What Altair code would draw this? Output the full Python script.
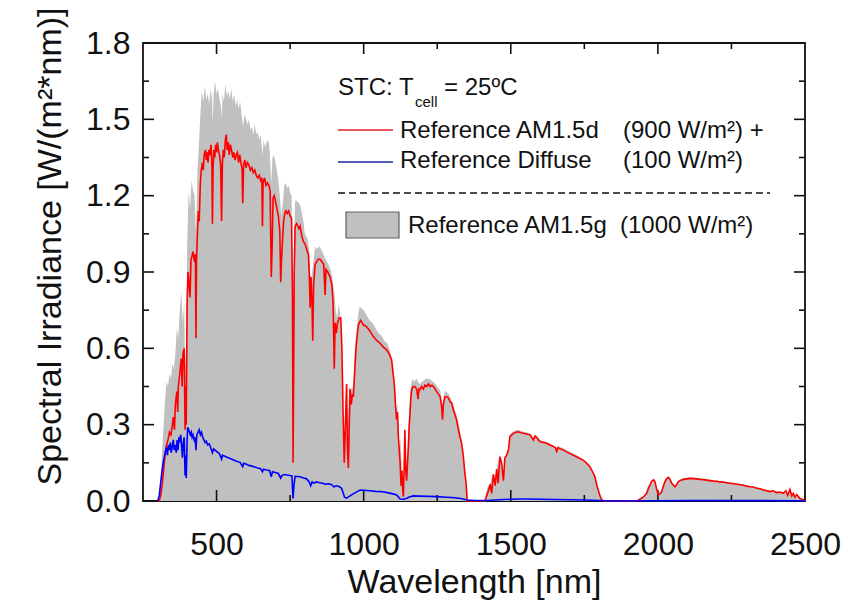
import altair as alt
import pandas as pd

# ---------------- data ----------------
# Reference AM1.5g global spectrum (grey fill): (wavelength nm, W/(m2 nm))
GLOBAL = [
    (280, 0), (300, 0), (305, 0.01), (310, 0.08), (315, 0.2), (320, 0.3), (325, 0.4),
    (330, 0.47), (335, 0.45), (340, 0.5), (345, 0.48), (350, 0.54), (355, 0.52),
    (360, 0.58), (365, 0.68), (370, 0.64), (375, 0.75), (380, 0.82), (385, 0.7),
    (390, 0.78), (393, 0.5), (397, 0.62), (400, 1.0), (405, 1.22), (410, 1.15),
    (415, 1.26), (420, 1.22), (425, 1.2), (430, 1.05), (435, 1.3), (440, 1.4),
    (445, 1.52), (450, 1.61), (455, 1.57), (460, 1.63), (465, 1.58), (470, 1.6),
    (475, 1.56), (480, 1.62), (485, 1.58), (487, 1.48), (490, 1.6), (495, 1.65),
    (500, 1.6), (505, 1.62), (510, 1.58), (515, 1.55), (518, 1.5), (520, 1.6),
    (525, 1.57), (530, 1.64), (535, 1.59), (540, 1.61), (545, 1.58), (550, 1.62),
    (555, 1.57), (560, 1.6), (565, 1.55), (570, 1.58), (575, 1.54), (580, 1.57),
    (585, 1.52), (590, 1.47), (595, 1.52), (600, 1.5), (605, 1.48), (610, 1.5),
    (615, 1.46), (620, 1.47), (625, 1.44), (630, 1.48), (635, 1.44), (640, 1.45),
    (645, 1.42), (650, 1.44), (656, 1.36), (660, 1.42), (665, 1.39), (670, 1.41),
    (675, 1.42), (680, 1.39), (686, 1.25), (690, 1.35), (695, 1.36), (700, 1.33),
    (705, 1.3), (710, 1.26), (715, 1.2), (720, 1.12), (725, 1.17), (730, 1.24),
    (735, 1.25), (740, 1.23), (745, 1.24), (750, 1.21), (755, 1.2), (760, 0.7),
    (763, 1.0), (767, 1.18), (772, 1.18), (780, 1.17), (785, 1.16), (790, 1.13),
    (795, 1.1), (800, 1.05), (805, 1.04), (810, 1.03), (815, 0.98), (820, 0.86),
    (825, 0.9), (830, 0.95), (835, 1.0), (840, 0.99), (850, 1.0), (860, 0.98),
    (870, 0.95), (880, 0.93), (890, 0.9), (900, 0.82), (905, 0.75), (910, 0.72),
    (915, 0.77), (920, 0.74), (925, 0.6), (930, 0.3), (935, 0.2), (940, 0.45),
    (945, 0.18), (950, 0.46), (955, 0.42), (960, 0.45), (965, 0.44), (970, 0.6),
    (975, 0.66), (980, 0.72), (985, 0.76), (990, 0.76), (1000, 0.75), (1010, 0.73),
    (1020, 0.71), (1030, 0.7), (1040, 0.68), (1050, 0.66), (1060, 0.65), (1070, 0.63),
    (1080, 0.62), (1090, 0.59), (1100, 0.53), (1105, 0.48), (1110, 0.35), (1115, 0.38),
    (1120, 0.2), (1125, 0.25), (1130, 0.08), (1135, 0.05), (1140, 0.3), (1145, 0.1),
    (1150, 0.25), (1155, 0.35), (1160, 0.45), (1165, 0.48), (1170, 0.47), (1180, 0.48),
    (1190, 0.46), (1200, 0.47), (1210, 0.48), (1220, 0.48), (1230, 0.475), (1240, 0.465),
    (1250, 0.45), (1260, 0.435), (1268, 0.38), (1275, 0.43), (1280, 0.43), (1290, 0.42),
    (1300, 0.39), (1310, 0.36), (1320, 0.32), (1330, 0.26), (1340, 0.18), (1345, 0.1),
    (1350, 0.03), (1355, 0.0), (1410, 0.0), (1415, 0.03), (1420, 0.05), (1430, 0.07),
    (1440, 0.11), (1445, 0.08), (1452, 0.13), (1463, 0.18), (1469, 0.15), (1475, 0.1),
    (1480, 0.17), (1486, 0.19), (1492, 0.21), (1497, 0.26), (1505, 0.27), (1515, 0.277),
    (1525, 0.28), (1535, 0.275), (1545, 0.272), (1560, 0.268), (1570, 0.262),
    (1578, 0.248), (1585, 0.258), (1600, 0.24), (1620, 0.233), (1640, 0.222),
    (1655, 0.208), (1660, 0.216), (1680, 0.206), (1700, 0.194), (1720, 0.182),
    (1740, 0.168), (1760, 0.15), (1775, 0.125), (1785, 0.1), (1795, 0.05),
    (1805, 0.018), (1815, 0.0), (1930, 0.0), (1940, 0.008), (1955, 0.02), (1965, 0.055),
    (1975, 0.075), (1985, 0.087), (1990, 0.08), (1996, 0.048), (2002, 0.028),
    (2013, 0.04), (2024, 0.08), (2036, 0.097), (2047, 0.073), (2058, 0.06), (2070, 0.08),
    (2087, 0.089), (2109, 0.093), (2130, 0.091), (2155, 0.088), (2177, 0.084),
    (2200, 0.081), (2223, 0.078), (2245, 0.074), (2268, 0.07), (2290, 0.066),
    (2313, 0.06), (2336, 0.054), (2359, 0.047), (2381, 0.041), (2403, 0.037),
    (2426, 0.034), (2441, 0.027), (2449, 0.048), (2455, 0.025), (2466, 0.02),
    (2483, 0.012), (2500, 0.0),
]

# Reference AM1.5d direct spectrum (red line)
DIRECT = [
    (300, 0), (305, 0.0), (310, 0.02), (315, 0.06), (320, 0.12), (325, 0.18), (330, 0.22),
    (335, 0.24), (340, 0.27), (345, 0.26), (350, 0.3), (353, 0.33), (357, 0.28),
    (360, 0.38), (365, 0.43), (368, 0.35), (370, 0.45), (375, 0.5), (380, 0.56),
    (383, 0.45), (386, 0.58), (390, 0.6), (393, 0.28), (395, 0.45), (397, 0.3),
    (400, 0.78), (403, 0.9), (406, 0.86), (410, 0.8), (413, 0.95), (416, 0.96),
    (420, 0.98), (425, 0.94), (428, 0.97), (430, 0.64), (432, 0.95), (435, 1.05),
    (438, 1.14), (441, 1.1), (445, 1.25), (448, 1.3), (452, 1.33), (455, 1.3),
    (458, 1.36), (462, 1.38), (465, 1.34), (468, 1.37), (471, 1.33), (474, 1.38),
    (478, 1.36), (481, 1.4), (484, 1.34), (486, 1.09), (488, 1.3), (491, 1.38),
    (494, 1.35), (497, 1.4), (500, 1.37), (503, 1.41), (506, 1.38), (510, 1.36),
    (514, 1.32), (517, 1.1), (520, 1.33), (523, 1.38), (526, 1.35), (530, 1.42),
    (533, 1.44), (536, 1.38), (540, 1.41), (543, 1.36), (547, 1.4), (551, 1.38),
    (555, 1.35), (559, 1.37), (563, 1.34), (567, 1.36), (571, 1.37), (575, 1.33),
    (579, 1.36), (583, 1.33), (587, 1.3), (589, 1.17), (592, 1.32), (596, 1.34),
    (600, 1.31), (605, 1.33), (610, 1.32), (615, 1.3), (620, 1.31), (625, 1.29),
    (630, 1.3), (635, 1.28), (640, 1.27), (645, 1.28), (650, 1.26), (654, 1.27),
    (656, 1.08), (658, 1.25), (663, 1.27), (668, 1.24), (673, 1.25), (678, 1.24),
    (682, 1.22), (686, 0.88), (689, 1.0), (692, 1.19), (696, 1.2), (700, 1.18),
    (705, 1.15), (710, 1.12), (715, 1.06), (718, 0.86), (721, 0.95), (724, 1.02),
    (728, 1.1), (732, 1.13), (736, 1.14), (740, 1.13), (745, 1.14), (750, 1.12),
    (755, 1.11), (758, 0.8), (760, 0.15), (762, 0.5), (764, 0.9), (767, 1.08),
    (772, 1.09), (776, 1.08), (780, 1.07), (784, 1.08), (790, 1.04), (795, 1.02),
    (801, 1.01), (806, 0.99), (812, 0.97), (815, 0.9), (818, 0.76), (821, 0.88),
    (824, 0.8), (827, 0.63), (830, 0.85), (835, 0.93), (840, 0.94), (845, 0.95),
    (852, 0.95), (858, 0.94), (864, 0.93), (869, 0.81), (872, 0.91), (878, 0.9),
    (886, 0.88), (892, 0.85), (896, 0.78), (900, 0.52), (903, 0.7), (907, 0.66),
    (911, 0.7), (917, 0.72), (922, 0.72), (926, 0.6), (930, 0.35), (934, 0.15),
    (938, 0.3), (942, 0.46), (945, 0.2), (948, 0.13), (951, 0.3), (954, 0.44),
    (958, 0.38), (962, 0.42), (965, 0.41), (970, 0.52), (974, 0.6), (978, 0.65),
    (982, 0.69), (985, 0.7), (990, 0.71), (995, 0.7), (1000, 0.69), (1005, 0.69),
    (1010, 0.685), (1020, 0.67), (1033, 0.646), (1045, 0.63), (1056, 0.62),
    (1067, 0.605), (1078, 0.594), (1088, 0.575), (1095, 0.554), (1100, 0.5),
    (1104, 0.46), (1108, 0.38), (1112, 0.32), (1115, 0.35), (1118, 0.25), (1121, 0.2),
    (1124, 0.15), (1127, 0.06), (1130, 0.12), (1133, 0.04), (1135, 0.017), (1138, 0.15),
    (1140, 0.28), (1143, 0.12), (1146, 0.08), (1149, 0.15), (1152, 0.21), (1155, 0.3),
    (1157, 0.33), (1160, 0.4), (1163, 0.436), (1168, 0.45), (1174, 0.45), (1180, 0.44),
    (1185, 0.4), (1188, 0.44), (1191, 0.437), (1197, 0.45), (1203, 0.44), (1208, 0.455),
    (1214, 0.45), (1220, 0.46), (1226, 0.45), (1232, 0.455), (1237, 0.45), (1243, 0.44),
    (1248, 0.43), (1254, 0.42), (1260, 0.41), (1265, 0.37), (1268, 0.32), (1271, 0.38),
    (1276, 0.41), (1282, 0.41), (1288, 0.405), (1294, 0.39), (1299, 0.385),
    (1305, 0.357), (1310, 0.34), (1316, 0.318), (1322, 0.28), (1327, 0.253),
    (1333, 0.226), (1339, 0.174), (1343, 0.12), (1348, 0.07), (1352, 0.0), (1412, 0.0),
    (1418, 0.02), (1424, 0.04), (1430, 0.066), (1435, 0.03), (1441, 0.105), (1447, 0.06),
    (1452, 0.125), (1457, 0.07), (1463, 0.174), (1469, 0.148), (1475, 0.08), (1480, 0.17),
    (1486, 0.18), (1492, 0.2), (1497, 0.253), (1503, 0.26), (1509, 0.266), (1517, 0.27),
    (1526, 0.272), (1535, 0.268), (1543, 0.266), (1554, 0.263), (1565, 0.26),
    (1571, 0.25), (1577, 0.24), (1582, 0.255), (1588, 0.25), (1594, 0.24), (1600, 0.233),
    (1611, 0.23), (1622, 0.227), (1633, 0.22), (1645, 0.214), (1651, 0.21),
    (1656, 0.195), (1660, 0.21), (1668, 0.205), (1679, 0.2), (1690, 0.193),
    (1701, 0.187), (1713, 0.18), (1724, 0.174), (1735, 0.167), (1747, 0.16),
    (1758, 0.148), (1769, 0.135), (1778, 0.115), (1786, 0.095), (1792, 0.065),
    (1798, 0.04), (1804, 0.018), (1809, 0.005), (1815, 0.0), (1930, 0.0), (1939, 0.007),
    (1950, 0.015), (1962, 0.03), (1968, 0.05), (1973, 0.063), (1979, 0.078),
    (1985, 0.083), (1990, 0.076), (1996, 0.045), (2002, 0.024), (2008, 0.03),
    (2013, 0.037), (2019, 0.06), (2024, 0.076), (2030, 0.088), (2036, 0.093),
    (2041, 0.085), (2047, 0.07), (2053, 0.062), (2058, 0.056), (2064, 0.065),
    (2070, 0.076), (2078, 0.082), (2087, 0.085), (2098, 0.087), (2109, 0.089),
    (2120, 0.088), (2132, 0.087), (2143, 0.085), (2155, 0.084), (2166, 0.082),
    (2177, 0.08), (2189, 0.078), (2200, 0.077), (2211, 0.075), (2223, 0.074),
    (2234, 0.072), (2245, 0.07), (2257, 0.068), (2268, 0.066), (2279, 0.064),
    (2290, 0.062), (2302, 0.058), (2313, 0.056), (2324, 0.055), (2336, 0.05),
    (2347, 0.048), (2359, 0.043), (2370, 0.04), (2381, 0.037), (2392, 0.04),
    (2403, 0.033), (2415, 0.035), (2426, 0.03), (2435, 0.04), (2441, 0.022),
    (2449, 0.045), (2455, 0.02), (2460, 0.03), (2466, 0.015), (2472, 0.025),
    (2483, 0.01), (2492, 0.006), (2500, 0.0),
]

# Reference diffuse spectrum (blue line)
DIFFUSE = [
    (300, 0), (305, 0.02), (310, 0.07), (315, 0.12), (320, 0.16), (325, 0.19), (330, 0.21),
    (333, 0.18), (336, 0.22), (340, 0.2), (343, 0.23), (346, 0.19), (350, 0.22),
    (353, 0.24), (356, 0.2), (360, 0.22), (363, 0.19), (366, 0.24), (369, 0.2),
    (372, 0.25), (375, 0.23), (378, 0.26), (381, 0.22), (384, 0.17), (387, 0.23),
    (390, 0.25), (393, 0.1), (395, 0.18), (397, 0.09), (400, 0.24), (402, 0.29),
    (405, 0.28), (408, 0.27), (411, 0.26), (414, 0.27), (417, 0.25), (420, 0.26),
    (424, 0.24), (427, 0.25), (430, 0.2), (433, 0.26), (437, 0.27), (441, 0.28),
    (445, 0.26), (449, 0.27), (453, 0.25), (457, 0.24), (461, 0.23), (465, 0.235),
    (470, 0.22), (475, 0.225), (480, 0.21), (486, 0.19), (490, 0.205), (495, 0.2),
    (500, 0.195), (505, 0.19), (510, 0.185), (517, 0.165), (520, 0.18), (530, 0.175),
    (540, 0.17), (550, 0.165), (560, 0.16), (570, 0.155), (580, 0.152), (589, 0.135),
    (592, 0.148), (600, 0.145), (610, 0.14), (620, 0.137), (630, 0.134), (640, 0.13),
    (650, 0.127), (656, 0.115), (660, 0.125), (670, 0.122), (680, 0.12), (686, 0.095),
    (690, 0.115), (700, 0.112), (710, 0.108), (718, 0.09), (722, 0.1), (730, 0.104),
    (740, 0.102), (750, 0.1), (756, 0.099), (760, 0.01), (763, 0.06), (767, 0.097),
    (775, 0.096), (784, 0.095), (795, 0.09), (805, 0.088), (815, 0.075), (820, 0.06),
    (825, 0.075), (830, 0.07), (840, 0.075), (850, 0.072), (860, 0.07), (870, 0.066),
    (880, 0.068), (890, 0.065), (900, 0.055), (905, 0.06), (915, 0.058), (925, 0.05),
    (935, 0.015), (942, 0.011), (950, 0.017), (960, 0.025), (975, 0.035), (988, 0.043),
    (1000, 0.042), (1020, 0.04), (1040, 0.038), (1060, 0.037), (1080, 0.033),
    (1100, 0.028), (1112, 0.024), (1124, 0.008), (1135, 0.007), (1145, 0.01),
    (1155, 0.016), (1169, 0.02), (1190, 0.019), (1220, 0.018), (1250, 0.017),
    (1280, 0.015), (1300, 0.014), (1330, 0.01), (1352, 0.004), (1380, 0.002),
    (1420, 0.002), (1460, 0.005), (1500, 0.007), (1530, 0.008), (1560, 0.008),
    (1600, 0.007), (1650, 0.006), (1700, 0.005), (1750, 0.004), (1800, 0.002),
    (1850, 0.0), (2000, 0.001), (2100, 0.002), (2500, 0.001),
]

X_LABEL_TICKS = [500, 1000, 1500, 2000, 2500]
X_MAJOR = [500, 1000, 1500, 2000]
X_MINOR = [750, 1250, 1750, 2250]
Y_LABEL_TICKS = [0.0, 0.3, 0.6, 0.9, 1.2, 1.5, 1.8]
Y_MAJOR = [0.3, 0.6, 0.9, 1.2, 1.5]
Y_MINOR = [0.15, 0.45, 0.75, 1.05, 1.35, 1.65]

# ---------------- chart ----------------
W, H = 662, 458
FONT = "Liberation Sans"
xscale = alt.Scale(domain=[250, 2500], nice=False, zero=False)
yscale = alt.Scale(domain=[0, 1.8], nice=False, zero=False)

df_g = pd.DataFrame(GLOBAL, columns=["wl", "v"])
df_d = pd.DataFrame(DIRECT, columns=["wl", "v"])
df_f = pd.DataFrame(DIFFUSE, columns=["wl", "v"])

x_axis = alt.Axis(values=X_LABEL_TICKS, format="d", labelBaseline="alphabetic",
                  labelPadding=53, title="Wavelength [nm]", titleBaseline="alphabetic",
                  titleY=91)
y_axis = alt.Axis(values=Y_LABEL_TICKS, format=".1f", labelPadding=13,
                  title="Spectral Irradiance [W/(m²*nm)]",
                  titleAngle=270, titleAlign="center", titleBaseline="alphabetic",
                  titleX=-83, titleY=203)

area = alt.Chart(df_g).mark_area(color="#c0c0c0", interpolate="linear").encode(
    x=alt.X("wl:Q", scale=xscale, axis=x_axis),
    y=alt.Y("v:Q", scale=yscale, axis=y_axis),
)
red = alt.Chart(df_d).mark_line(color="#ff0000", strokeWidth=1.6).encode(
    x=alt.X("wl:Q", scale=xscale),
    y=alt.Y("v:Q", scale=yscale),
)
blue = alt.Chart(df_f).mark_line(color="#0000ff", strokeWidth=1.6).encode(
    x=alt.X("wl:Q", scale=xscale),
    y=alt.Y("v:Q", scale=yscale),
)


def xticks(vals, y0, y1):
    return alt.Chart(pd.DataFrame({"t": vals})).mark_rule(color="#111", strokeWidth=1.6).encode(
        x=alt.X("t:Q", scale=xscale), y=alt.value(y0), y2=alt.value(y1))


def yticks(vals, x0, x1):
    return alt.Chart(pd.DataFrame({"t": vals})).mark_rule(color="#111", strokeWidth=1.6).encode(
        y=alt.Y("t:Q", scale=yscale), x=alt.value(x0), x2=alt.value(x1))


MAJ, MIN = 11, 6
bottom_ticks = [xticks(X_MAJOR, H - MAJ, H), xticks(X_MINOR, H - MIN, H)]
other_ticks = [
    xticks(X_MAJOR, 0, MAJ), xticks(X_MINOR, 0, MIN),
    yticks(Y_MAJOR, 0, MAJ), yticks(Y_MINOR, 0, MIN),
    yticks(Y_MAJOR, W - MAJ, W), yticks(Y_MINOR, W - MIN, W),
]

one = pd.DataFrame({"k": [0]})


def label(txt, x, y, size=24):
    return alt.Chart(one).mark_text(text=txt, align="left", baseline="alphabetic",
                                    font=FONT, fontSize=size, color="#111").encode(
        x=alt.value(x), y=alt.value(y))


def hline(x0, x1, y, color, dash=None, width=1.6):
    kw = dict(color=color, strokeWidth=width)
    if dash:
        kw["strokeDash"] = dash
    return alt.Chart(one).mark_rule(**kw).encode(x=alt.value(x0), x2=alt.value(x1), y=alt.value(y))


legend = [
    label("STC: T", 195, 52),
    label("cell", 272, 64, 15),
    label("= 25ºC", 301, 52),
    hline(195, 250, 87, "#e02020"),
    label("Reference AM1.5d", 257, 95),
    label("(900 W/m²) +", 480, 95),
    hline(195, 250, 119, "#1a28a8"),
    label("Reference Diffuse", 257, 125),
    label("(100 W/m²)", 480, 125),
    hline(195, 627, 150, "#111", dash=[7, 4], width=1.6),
    alt.Chart(one).mark_rect(fill="#c0c0c0", stroke="#606060", strokeWidth=1.2).encode(
        x=alt.value(203), x2=alt.value(256), y=alt.value(169), y2=alt.value(195)),
    label("Reference AM1.5g", 265, 190),
    label("(1000 W/m²)", 477, 190),
]

chart = alt.layer(area, *bottom_ticks, red, blue, *other_ticks, *legend).properties(
    width=W, height=H,
    autosize=alt.AutoSizeParams(type="none"),
    padding={"left": 143, "top": 43, "right": 56, "bottom": 100},
    background="white",
).configure_view(
    stroke="#111", strokeWidth=1.8
).configure_axis(
    tickSize=0, domain=False, grid=False, labelFontSize=32, labelFont=FONT,
    labelColor="#111", labelFlush=False, labelOverlap=False, titleFontSize=34,
    titleFont=FONT, titleFontWeight="normal", titleColor="#111",
)

chart.save("out.html", embed_options={"renderer": "svg", "actions": False})
